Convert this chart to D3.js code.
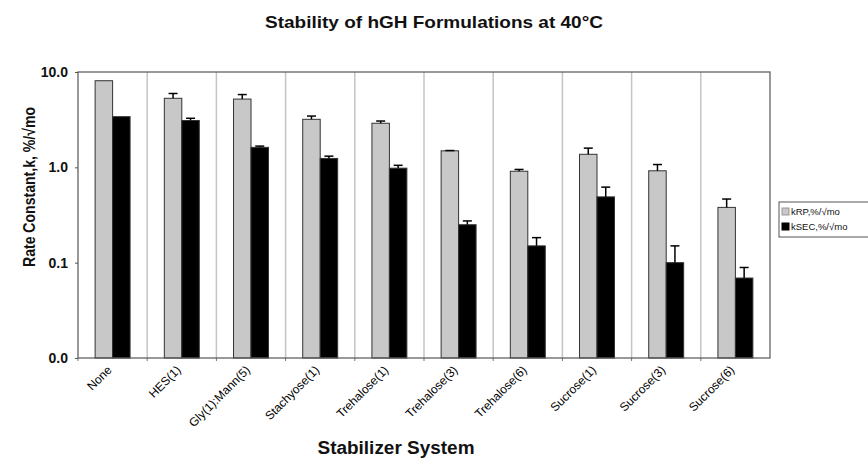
<!DOCTYPE html>
<html>
<head>
<meta charset="utf-8">
<script src="https://cdn.jsdelivr.net/npm/d3@7"></script>
<style>
  body { margin: 0; background: #fff; }
  svg { font-family: "Liberation Sans", Arial, Helvetica, sans-serif; }
</style>
</head>
<body>
<svg id="chart" width="868" height="459"></svg>
<script>
// data
const categories = ["None", "HES(1)", "Gly(1):Mann(5)", "Stachyose(1)", "Trehalose(1)",
  "Trehalose(3)", "Trehalose(6)", "Sucrose(1)", "Sucrose(3)", "Sucrose(6)"];
const seriesNames = ["kRP,%/\u221Amo", "kSEC,%/\u221Amo"];
const kRP = [8.1, 5.3, 5.2, 3.19, 2.9, 1.49, 0.91, 1.37, 0.92, 0.38];
const kRPErr = [8.1, 5.95, 5.8, 3.45, 3.06, 1.5, 0.95, 1.59, 1.07, 0.465];
const kSEC = [3.4, 3.1, 1.62, 1.24, 0.98, 0.25, 0.15, 0.49, 0.1, 0.069];
const kSECErr = [3.4, 3.27, 1.67, 1.31, 1.05, 0.274, 0.183, 0.62, 0.15, 0.089];
const yTicks = [0.01, 0.1, 1, 10];
const colors = ["#c8c8c8", "#000000"];

const rows = categories.map((c, i) => ({
  cat: c,
  vals: [
    { s: 0, v: kRP[i], top: kRPErr[i] },
    { s: 1, v: kSEC[i], top: kSECErr[i] }
  ]
}));

const svg = d3.select("#chart");
const margin = { left: 78, right: 98, top: 72, bottom: 101 };
const W = 868, H = 459;

const x = d3.scaleBand().domain(categories).range([margin.left, W - margin.right]);
const xs = d3.scaleBand().domain([0, 1]).range([0, x.bandwidth()]).paddingOuter(0.98).paddingInner(0);
const y = d3.scaleLog().domain([0.01, 10]).range([H - margin.bottom, margin.top]);

// vertical separators between categories (plus small ticks below the axis)
svg.append("g")
  .selectAll("line")
  .data(categories.slice(1))
  .join("line")
  .attr("x1", (d) => x(d)).attr("x2", (d) => x(d))
  .attr("y1", y(10)).attr("y2", y(0.01))
  .attr("stroke", "#c4c4c4").attr("stroke-width", 1.5);
svg.append("g")
  .selectAll("line")
  .data(categories)
  .join("line")
  .attr("x1", (d) => x(d)).attr("x2", (d) => x(d))
  .attr("y1", y(0.01)).attr("y2", y(0.01) + 3)
  .attr("stroke", "#777");

// bars
const groups = svg.append("g")
  .selectAll("g")
  .data(rows)
  .join("g")
  .attr("transform", (d) => `translate(${x(d.cat)},0)`);

groups.selectAll("rect")
  .data((d) => d.vals)
  .join("rect")
  .attr("x", (d) => xs(d.s))
  .attr("width", xs.bandwidth())
  .attr("y", (d) => y(d.v))
  .attr("height", (d) => y(0.01) - y(d.v))
  .attr("fill", (d) => colors[d.s])
  .attr("stroke", "#333")
  .attr("stroke-width", 1);

// error bars (upper only)
const err = groups.selectAll("g.err")
  .data((d) => d.vals.filter((e) => e.top > e.v))
  .join("g")
  .attr("class", "err");
err.append("line")
  .attr("x1", (d) => xs(d.s) + xs.bandwidth() / 2)
  .attr("x2", (d) => xs(d.s) + xs.bandwidth() / 2)
  .attr("y1", (d) => y(d.v)).attr("y2", (d) => y(d.top))
  .attr("stroke", "#000").attr("stroke-width", 1.5);
err.append("line")
  .attr("x1", (d) => xs(d.s) + xs.bandwidth() / 2 - 4.5)
  .attr("x2", (d) => xs(d.s) + xs.bandwidth() / 2 + 4.5)
  .attr("y1", (d) => y(d.top)).attr("y2", (d) => y(d.top))
  .attr("stroke", "#000").attr("stroke-width", 1.5);

// plot frame
svg.append("rect")
  .attr("x", margin.left).attr("y", margin.top)
  .attr("width", W - margin.left - margin.right)
  .attr("height", H - margin.top - margin.bottom)
  .attr("fill", "none").attr("stroke", "#555").attr("stroke-width", 1.2);

// y axis
const yAxis = svg.append("g")
  .attr("transform", `translate(${margin.left},0)`)
  .call(d3.axisLeft(y).tickValues(yTicks).tickFormat((d) => d.toFixed(1)).tickSize(3).tickPadding(7));
yAxis.select(".domain").remove();
yAxis.selectAll("line").attr("stroke", "#555");
yAxis.selectAll("text").attr("font-size", 14).attr("font-weight", "bold").attr("fill", "#111");

// x axis
const xAxis = svg.append("g")
  .attr("transform", `translate(0,${H - margin.bottom})`)
  .call(d3.axisBottom(x).tickSize(0).tickPadding(6));
xAxis.select(".domain").remove();
xAxis.selectAll("text")
  .attr("font-size", 12)
  .attr("fill", "#000")
  .attr("text-anchor", "end")
  .attr("dy", "0.3em")
  .attr("transform", "translate(-7,6) rotate(-45)");

// titles
svg.append("text")
  .attr("x", 434).attr("y", 28)
  .attr("text-anchor", "middle")
  .attr("font-size", 17).attr("font-weight", "bold").attr("fill", "#111")
  .attr("textLength", 338).attr("lengthAdjust", "spacingAndGlyphs")
  .text("Stability of hGH Formulations at 40\u00B0C");

svg.append("text")
  .attr("transform", "translate(35,187) rotate(-90)")
  .attr("text-anchor", "middle")
  .attr("font-size", 17).attr("font-weight", "bold").attr("fill", "#111")
  .attr("textLength", 160).attr("lengthAdjust", "spacingAndGlyphs")
  .text("Rate Constant,k, %/\u221Amo");

svg.append("text")
  .attr("x", 396).attr("y", 454)
  .attr("text-anchor", "middle")
  .attr("font-size", 18).attr("font-weight", "bold").attr("fill", "#111")
  .attr("textLength", 157).attr("lengthAdjust", "spacingAndGlyphs")
  .text("Stabilizer System");

// legend
const legend = svg.append("g").attr("transform", "translate(779,202)");
legend.append("rect")
  .attr("width", 100).attr("height", 35)
  .attr("fill", "#fff").attr("stroke", "#555");
const li = legend.selectAll("g")
  .data(seriesNames)
  .join("g")
  .attr("transform", (d, i) => `translate(3,${10 + i * 15})`);
li.append("rect")
  .attr("x", 0).attr("y", -4).attr("width", 7).attr("height", 7)
  .attr("fill", (d, i) => colors[i]).attr("stroke", (d, i) => i ? "#000" : "#999");
li.append("text")
  .attr("x", 9).attr("y", 0).attr("dy", "0.35em")
  .attr("font-size", 9.5).attr("fill", "#111")
  .text((d) => d);
</script>
</body>
</html>
